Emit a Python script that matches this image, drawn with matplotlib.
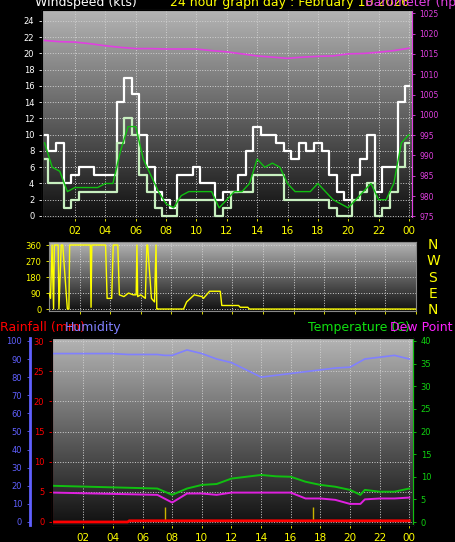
import matplotlib
matplotlib.use("Agg")
import matplotlib.pyplot as plt
import numpy as np

W, H = 456, 542
hours_half = [i * 0.5 for i in range(49)]
wind_avg = [9,6,5.5,3,3.5,3.5,3.5,3.5,4,4,8,11,11,7,5,3,1.5,1,2.5,3,3,3,3,1,2,3,3,4,7,6,6.5,6,4,3,3,3,4,3,2,1.5,1,2,3,4,2,2,4,9,10]
wind_gust = [10,8,9,4,5,6,6,5,5,5,14,17,15,10,6,3,2,1,5,5,6,4,4,2,3,3,5,8,11,10,10,9,8,7,9,8,9,8,5,3,2,5,7,10,3,6,6,14,16]
wind_low = [7,4,4,1,2,3,3,3,3,3,9,12,10,5,3,1,0,0,2,2,2,2,2,0,1,3,3,3,5,5,5,5,2,2,2,2,2,2,1,0,0,2,3,4,0,1,3,6,9]
hours = list(range(25))
baro = [1018.3,1018,1017.9,1017.5,1017,1016.6,1016.3,1016.3,1016.2,1016.2,1016.2,1015.8,1015.5,1015,1014.5,1014.2,1013.9,1014.2,1014.4,1014.5,1015,1015.1,1015.4,1015.8,1016.4]
dir_t = [0,0.1,0.2,0.3,0.35,0.6,0.65,0.8,0.9,1.2,1.3,1.35,2.7,2.75,2.8,3.7,3.8,4.1,4.2,4.5,4.6,4.9,5.2,5.5,5.7,5.75,5.8,6.0,6.3,6.4,6.45,6.7,6.9,7.0,7.05,7.1,8.8,9.0,9.5,10.0,10.1,10.5,11.2,11.3,12.4,12.5,13.0,13.1,24]
dir_v = [90,60,360,0,360,360,0,360,360,0,0,360,360,10,360,360,60,60,360,360,80,70,90,80,80,360,70,80,60,360,360,60,40,360,0,0,0,40,80,70,60,100,100,20,20,10,10,0,0]
hum_t = [0,1,2,3,4,5,6,7,7.5,8,9,10,11,12,13,14,15,16,17,18,19,20,21,22,23,24]
hum = [93,93,93,93,93,92.5,92.5,92.5,92,92,95,93,90,88,84,80,81,82,83,84,85,85.5,90,91,92,90]
temp_t = [0,7,8,9,10,11,12,13,14,15,16,17,18,19,20,20.7,21,22,23,24]
temp = [8,7.4,6,7.4,8.2,8.4,9.6,10,10.4,10.1,10,8.9,8.2,7.8,7.1,6,7.1,6.7,6.7,7.4]
dew = [6.5,6,4.3,6.3,6.3,6,6.5,6.5,6.5,6.5,6.5,5.2,5.2,4.9,4,4,5,5.2,5.2,5.4]
rain_t = [0,5,5.1,24]
rain = [0,0,0.2,0.2]
rain_marks = [7.5, 17.5]
xticks = [2,4,6,8,10,12,14,16,18,20,22,24]
xlabels = ["02","04","06","08","10","12","14","16","18","20","22","00"]

fig = plt.figure(figsize=(W/100, H/100), dpi=100, facecolor="black")
def rect(l, t, r, b):
    return [l/W, 1-b/H, (r-l)/W, (b-t)/H]

grad = np.linspace(0, 1, 256).reshape(-1, 1)
def bg(ax):
    ax.imshow(grad, cmap=matplotlib.colors.LinearSegmentedColormap.from_list("g", ["#b4b4b4", "#101010"]),
              aspect="auto", extent=[0, 1, 0, 1], transform=ax.transAxes, zorder=0)
    ax.grid(True, color="#d0d0d0", ls=":", lw=0.7, zorder=1)
    for s in ax.spines.values():
        s.set_color("#888888")

def style(ax, color):
    ax.tick_params(colors=color, labelsize=6, length=2, width=0.6)

# Wind panel
ax1 = fig.add_axes(rect(42, 10, 412, 218))
bg(ax1)
ax1.set_xlim(-0.17, 24.2); ax1.set_ylim(-0.25, 25.35)
ax1.step(hours_half, wind_gust, where="mid", color="white", lw=1.6, zorder=3)
ax1.step(hours_half, wind_low, where="mid", color="#c8f0c0", lw=1.6, zorder=4)
ax1.plot(hours_half, wind_avg, color="#10c010", lw=1.0, zorder=5)
ax1.set_yticks(range(0, 25, 2))
ax1.set_xticks(xticks); ax1.set_xticklabels(xlabels)
ax1.set_xticks(np.arange(0, 24.1, 0.5), minor=True)
style(ax1, "white")
ax1.tick_params(axis="x", colors="yellow", labelsize=7.5)
ax1b = ax1.twinx()
ax1b.set_ylim(974.6, 1025.8)
ax1b.plot(hours, baro, color="#e040e0", lw=1.2, zorder=6)
ax1b.set_yticks(range(975, 1026, 5))
style(ax1b, "#e040e0")
ax1b.tick_params(labelsize=5.5)
ax1b.spines["right"].set_color("#e040e0")

fig.text(35/W, 1+4/H, "Windspeed (kts)", color="white", fontsize=9, va="top")
fig.text(170/W, 1+4/H, "24 hour graph day : February 10 2026", color="yellow", fontsize=9, va="top")
fig.text(365/W, 1+4/H, "Barometer (hpa)", color="#e040e0", fontsize=9, va="top")

# Direction panel
ax2 = fig.add_axes(rect(49, 242, 416, 311))
bg(ax2)
ax2.set_xlim(0, 24); ax2.set_ylim(-11, 377)
ax2.plot(dir_t, dir_v, color="yellow", lw=1.0, zorder=3)
ax2.set_yticks([0, 90, 180, 270, 360])
ax2.set_xticks(xticks); ax2.set_xticklabels([])
style(ax2, "yellow")
for i, c in enumerate("NWSEN"):
    fig.text(433/W, 1-(245+16.3*i)/H, c, color="yellow", fontsize=10, ha="center", va="center")

# Bottom panel
ax3 = fig.add_axes(rect(52, 338, 413, 525))
bg(ax3)
ax3.set_xlim(-0.11, 24.25); ax3.set_ylim(-0.5, 30.5)
ax3.plot(rain_t, rain, color="red", lw=2, zorder=5)
ax3.vlines(rain_marks, 0, 2.5, color="#c8b400", lw=1, zorder=4)
ax3.set_yticks(range(0, 31, 5))
ax3.set_xticks(xticks); ax3.set_xticklabels(xlabels)
style(ax3, "red")
ax3.tick_params(axis="x", colors="yellow", labelsize=7.5)
ax3.spines["left"].set_color("red")
axh = ax3.twinx()
axh.yaxis.set_ticks_position("left"); axh.yaxis.set_label_position("left")
axh.spines["left"].set_position(("outward", 16))
axh.spines["left"].set_color("#6060ff"); axh.spines["left"].set_linewidth(2)
axh.set_ylim(-1.66, 101.6)
axh.plot(hum_t, hum, color="#8080ff", lw=1.2, zorder=5)
axh.set_yticks(range(0, 101, 10))
style(axh, "#6060ff")
axt = ax3.twinx()
axt.set_ylim(-0.66, 40.66)
axt.plot(temp_t, temp, color="#10c010", lw=1.4)
axt.plot(temp_t, dew, color="#e020e0", lw=1.4)
axt.set_yticks(range(0, 41, 5))
style(axt, "#10d010")
axt.spines["right"].set_color("#10c010")

fig.text(0, 1-327/H, "Rainfall (mm)", color="red", fontsize=9, va="center")
fig.text(65/W, 1-327/H, "Humidity", color="#8080ff", fontsize=9, va="center")
fig.text(308/W, 1-327/H, "Temperature (C)", color="#10e010", fontsize=9, va="center")
fig.text(390/W, 1-327/H, "Dew Point (C)", color="#ff20ff", fontsize=9, va="center")

fig.savefig("out.png", dpi=100, facecolor="black")
